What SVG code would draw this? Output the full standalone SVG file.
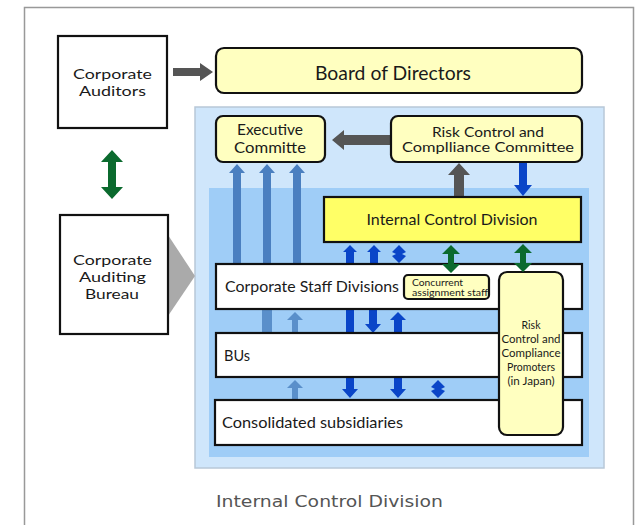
<svg xmlns="http://www.w3.org/2000/svg" width="635" height="525" viewBox="0 0 635 525">
<style>
text{font-family:Lato,"Open Sans","Liberation Sans",sans-serif;fill:#1a1a1a}
.box{fill:#fff;stroke:#111;stroke-width:2.2}
.ly{fill:#ffffc0;stroke:#111;stroke-width:2.2}
.by{fill:#ffff66;stroke:#111;stroke-width:2.2}
.gray{fill:#555}
.grn{fill:#0b6a2e}
.dblue{fill:#0a45c8}
.lblue{fill:#4a7fc0}
.lblue2{fill:#5a8fca}
.c{text-anchor:middle}
</style>
<rect x="0" y="0" width="635" height="525" fill="#fff"/>
<path d="M24.5 530 V7.5 H633.5 V530" fill="none" stroke="#999" stroke-width="1.5"/>

<g id="panel-outer"><rect x="195" y="107" width="409" height="361" fill="#cfe6fb" stroke="#b8c8d8" stroke-width="1.5"/></g>
<g id="panel-inner"><rect x="209" y="188" width="380" height="269" fill="#9fcdf7"/></g>

<g id="connectors">
  <!-- auditors to board -->
  <polygon class="gray" points="173,68 200,68 200,63 213,72 200,81 200,76 173,76"/>
  <!-- risk committee to executive -->
  <polygon class="gray" points="391,135 344,135 344,130 332,140 344,150 344,145 391,145"/>
  <!-- internal control up to risk committee -->
  <polygon class="gray" points="454,197 454,175 448,175 459,163 470,175 464,175 464,197"/>
  <!-- risk committee down to internal control -->
  <polygon class="dblue" points="519,162 527,162 527,185 532,185 523,196 514,185 519,185"/>
  <!-- green: auditors - bureau -->
  <polygon class="grn" points="112,150 123,162 116,162 116,187 123,187 112,199 101,187 108,187 108,162 101,162"/>
  <!-- light blue long arrows to executive -->
  <polygon class="lblue" points="233,264 233,173 229,173 237,164 245,173 241,173 241,264"/>
  <polygon class="lblue" points="263,264 263,173 259,173 267,164 275,173 271,173 271,264"/>
  <polygon class="lblue" points="293,264 293,173 289,173 297,164 305,173 301,173 301,264"/>
  <!-- light blue in gaps -->
  <rect class="lblue2" x="262" y="309" width="10" height="24"/>
  <polygon class="lblue2" points="292,333 292,320 287,320 295,312 303,320 298,320 298,333"/>
  <polygon class="lblue2" points="292,400 292,388 287,388 295,380 303,388 298,388 298,400"/>
  <!-- dark blue: internal control <-> staff -->
  <polygon class="dblue" points="346,264 346,252 343,252 350,245 357,252 354,252 354,264"/>
  <polygon class="dblue" points="370,264 370,252 367,252 374,245 381,252 378,252 378,264"/>
  <polygon class="dblue" points="399,245 406,252 402,254 406,256 399,263 392,256 396,254 392,252"/>
  <!-- dark blue: staff <-> BUs -->
  <rect class="dblue" x="346" y="309" width="8" height="24"/>
  <polygon class="dblue" points="369,309 377,309 377,324 381,324 373,333 365,324 369,324"/>
  <polygon class="dblue" points="394,333 394,320 390,320 398,312 406,320 402,320 402,333"/>
  <!-- dark blue: BUs <-> subsidiaries -->
  <polygon class="dblue" points="346,377 354,377 354,389 358,389 350,398 342,389 346,389"/>
  <polygon class="dblue" points="394,377 402,377 402,389 406,389 398,398 390,389 394,389"/>
  <polygon class="dblue" points="438,380 445,387 441,389 445,391 438,398 431,391 435,389 431,387"/>
  <!-- bureau triangle -->
  <polygon fill="#aaa" points="168,235 195,276 168,316"/>
</g>

<g id="corporate-auditors">
  <rect class="box" x="58" y="36" width="109" height="92"/>
  <text class="c" x="112.5" y="79" font-size="14" textLength="79" lengthAdjust="spacingAndGlyphs">Corporate</text>
  <text class="c" x="112.5" y="96" font-size="14" textLength="67" lengthAdjust="spacingAndGlyphs">Auditors</text>
</g>
<g id="board-of-directors">
  <rect class="ly" x="216" y="48" width="366" height="45" rx="8"/>
  <text class="c" x="393" y="80" font-size="20" textLength="156" lengthAdjust="spacingAndGlyphs">Board of Directors</text>
</g>
<g id="corporate-auditing-bureau">
  <rect class="box" x="60" y="215" width="108" height="119"/>
  <text class="c" x="112.5" y="265" font-size="14" textLength="79" lengthAdjust="spacingAndGlyphs">Corporate</text>
  <text class="c" x="112.5" y="282" font-size="14" textLength="67" lengthAdjust="spacingAndGlyphs">Auditing</text>
  <text class="c" x="112" y="299" font-size="14" textLength="54" lengthAdjust="spacingAndGlyphs">Bureau</text>
</g>
<g id="executive-committee">
  <rect class="ly" x="216" y="116" width="109" height="46" rx="7"/>
  <text class="c" x="270" y="135" font-size="14.5" textLength="66" lengthAdjust="spacingAndGlyphs">Executive</text>
  <text class="c" x="270" y="153" font-size="14.5" textLength="72" lengthAdjust="spacingAndGlyphs">Committe</text>
</g>
<g id="risk-control-committee">
  <rect class="ly" x="391" y="116" width="191" height="46" rx="7"/>
  <text class="c" x="488" y="137" font-size="12.5" textLength="112" lengthAdjust="spacingAndGlyphs">Risk Control and</text>
  <text class="c" x="488" y="152" font-size="12.5" textLength="172" lengthAdjust="spacingAndGlyphs">Complliance Committee</text>
</g>
<g id="internal-control-division">
  <rect class="by" x="324" y="197" width="257" height="45"/>
  <text class="c" x="452" y="225" font-size="16" textLength="171" lengthAdjust="spacingAndGlyphs">Internal Control Division</text>
</g>
<g id="corporate-staff-divisions">
  <rect class="box" x="216" y="264" width="366" height="45"/>
  <text x="225" y="292" font-size="16" textLength="174" lengthAdjust="spacingAndGlyphs">Corporate Staff Divisions</text>
</g>
<g id="bus">
  <rect class="box" x="216" y="333" width="366" height="44"/>
  <text x="224" y="361" font-size="16" textLength="26" lengthAdjust="spacingAndGlyphs">BUs</text>
</g>
<g id="consolidated-subsidiaries">
  <rect class="box" x="215" y="400" width="367" height="45"/>
  <text x="222" y="428" font-size="16" textLength="181" lengthAdjust="spacingAndGlyphs">Consolidated subsidiaries</text>
</g>
<g id="concurrent-assignment-staff">
  <rect class="ly" x="404" y="275" width="85" height="24" rx="4" stroke-width="1.8"/>
  <text x="412" y="286" font-size="8.5" textLength="51" lengthAdjust="spacingAndGlyphs">Concurrent</text>
  <text x="412" y="296" font-size="8.5" textLength="76" lengthAdjust="spacingAndGlyphs">assignment staff</text>
</g>
<g id="risk-control-promoters">
  <rect class="ly" x="499" y="272" width="64" height="163" rx="8"/>
  <text class="c" x="531" y="329" font-size="11.5" textLength="19" lengthAdjust="spacingAndGlyphs">Risk</text>
  <text class="c" x="531" y="343" font-size="11.5" textLength="59" lengthAdjust="spacingAndGlyphs">Control and</text>
  <text class="c" x="531" y="357" font-size="11.5" textLength="59" lengthAdjust="spacingAndGlyphs">Compliance</text>
  <text class="c" x="531" y="371" font-size="11.5" textLength="48" lengthAdjust="spacingAndGlyphs">Promoters</text>
  <text class="c" x="531" y="385" font-size="11.5" textLength="47" lengthAdjust="spacingAndGlyphs">(in Japan)</text>
</g>
<g id="connectors-front">
  <polygon class="grn" points="451,245 460,254 454,254 454,264 460,264 451,273 442,264 448,264 448,254 442,254"/>
  <polygon class="grn" points="523,244 532,253 526,253 526,263 532,263 523,272 514,263 520,263 520,253 514,253"/>
</g>
<text x="216" y="507" font-size="15" style="font-family:'DejaVu Sans',Verdana,sans-serif;fill:#555" textLength="227" lengthAdjust="spacingAndGlyphs">Internal Control Division</text>
</svg>
